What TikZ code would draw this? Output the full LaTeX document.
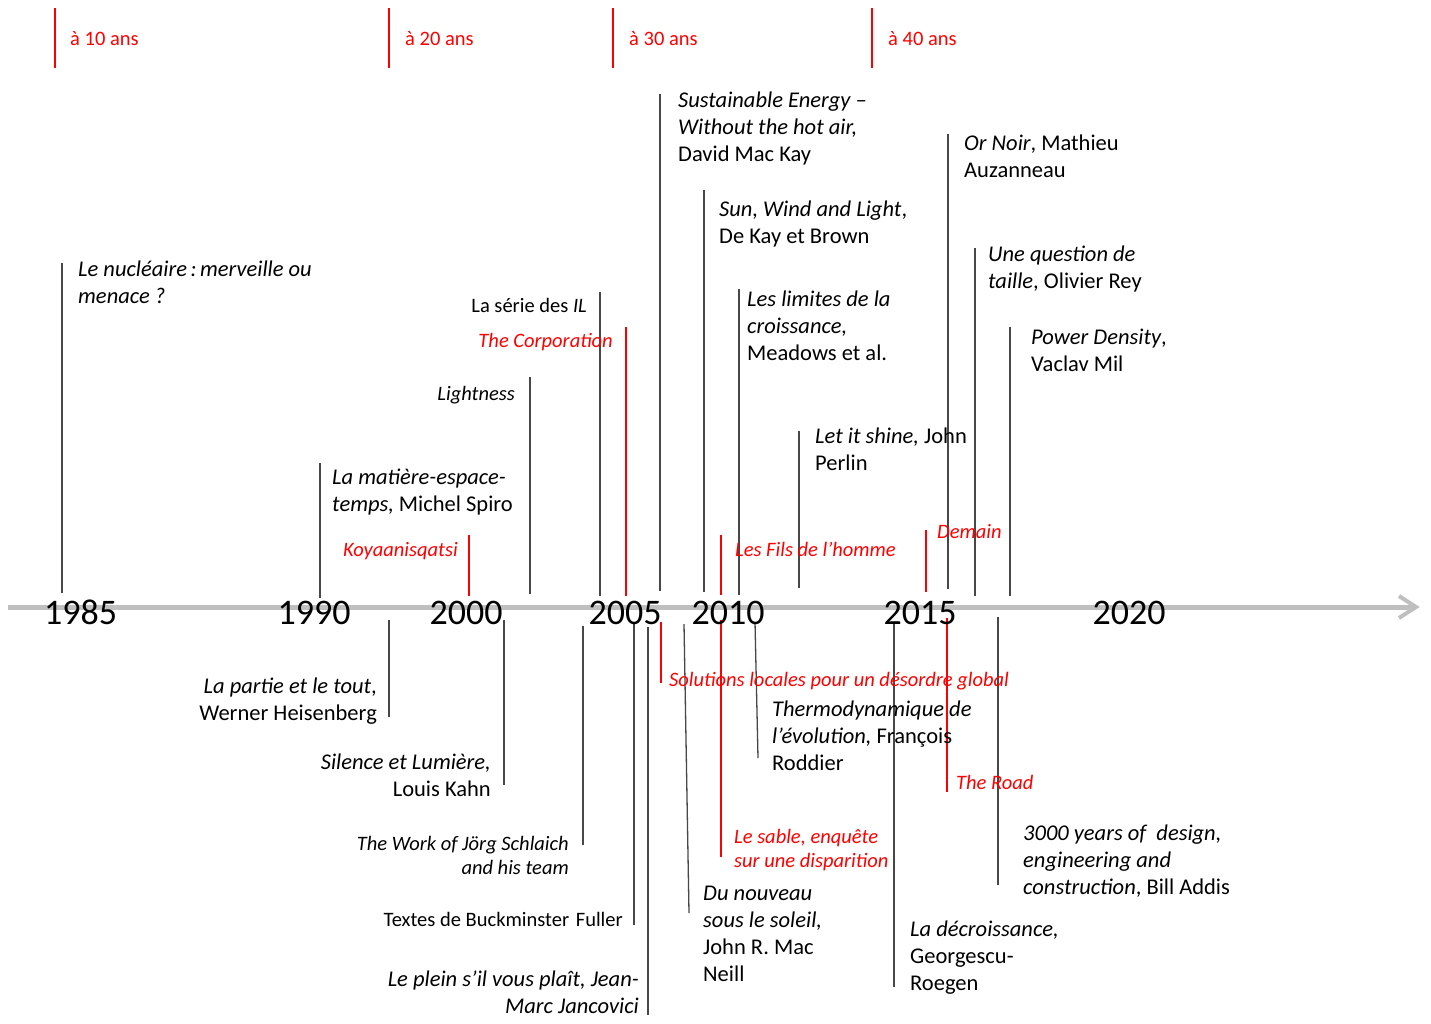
\documentclass[tikz,border=0pt]{standalone}
\usepackage{fontspec}
\setmainfont{Carlito}
\begin{document}
\begin{tikzpicture}[x=1pt,y=-1pt,
  axisline/.style={line width=5pt, color={rgb,255:red,191;green,191;blue,191}},
  tl/.style={line width=1.3pt, color=black!72},
  rl/.style={line width=1.3pt, color=red},
  yr/.style={font=\fontsize{36}{40}\selectfont, anchor=base, inner sep=0pt},
  bk/.style={font=\fontsize{22.5}{27}\selectfont, inner sep=0pt, yshift=-4pt, execute at begin node=\strut},
  sm/.style={font=\fontsize{20.5}{24}\selectfont, inner sep=0pt, yshift=-4pt, execute at begin node=\strut},
  L/.style={anchor=north west, align=left},
  R/.style={anchor=north east, align=right},
  rt/.style={text=red}
]
\useasboundingbox (0,0) rectangle (1431,1023);
\fill[white] (0,0) rectangle (1431,1023);

% age ticks
\foreach \x/\t in {55/10,389/20,613/30,872/40}{
  \draw[rl] (\x,8) -- (\x,68);
}
\node[sm,rt,anchor=north west] (a10) at (70,24) {à 10 ans};
\node[sm,rt,anchor=north west] (a20) at (405,24) {à 20 ans};
\node[sm,rt,anchor=north west] (a30) at (629,24) {à 30 ans};
\node[sm,rt,anchor=north west] (a40) at (888,24) {à 40 ans};

% axis
\draw[axisline] (8,607) -- (1414,607);
\draw[axisline, line width=4pt, line join=miter] (1399,596) -- (1416,607) -- (1399,618);

% vertical lines above
\draw[tl] (62,263) -- (62,593);
\draw[tl] (320,463) -- (320,598);
\draw[rl] (469,535) -- (469,596);
\draw[tl] (530,377) -- (530,594);
\draw[tl] (600,292) -- (600,596);
\draw[rl] (626,327) -- (626,596);
\draw[tl] (660,94) -- (660,591);
\draw[tl] (704,190) -- (704,592);
\draw[rl] (721,535) -- (721,595);
\draw[tl] (739,289) -- (739,595);
\draw[tl] (799,431) -- (799,588);
\draw[rl] (926,530) -- (926,592);
\draw[tl] (948,134) -- (948,589);
\draw[tl] (975,248) -- (975,596);
\draw[tl] (1010,327) -- (1010,596);

% vertical lines below
\draw[tl] (389,620) -- (389,717);
\draw[tl] (504,620) -- (504,785);
\draw[tl] (583,626) -- (583,845);
\draw[tl] (634,622) -- (634,925);
\draw[tl] (648,627) -- (648,1015);
\draw[rl] (661,622) -- (661,683);
\draw[tl] (684,624) -- (689,913);
\draw[rl] (721,620) -- (721,857);
\draw[tl] (755,622) -- (758,758);
\draw[tl] (894,622) -- (894,987);
\draw[rl] (947,618) -- (947,792);
\draw[tl] (998,617) -- (998,885);

% years
\node[yr] (y1985) at (80.5,624) {1985};
\node[yr] (y1990) at (314,624) {1990};
\node[yr] (y2000) at (466,624) {2000};
\node[yr] (y2005) at (625,624) {2005};
\node[yr] (y2010) at (728,624) {2010};
\node[yr] (y2015) at (920,624) {2015};
\node[yr] (y2020) at (1129,624) {2020};

% texts above
\node[bk,L] (t1) at (78,257) {\textit{Le nucléaire\hspace{3.5pt}:\hspace{3.5pt}merveille ou}\\\textit{menace ?}};
\node[bk,L] (t2) at (332,465) {\textit{La matière-espace-}\\\textit{temps,} Michel Spiro};
\node[sm,R,rt] (t3) at (458,535) {\textit{Koyaanisqatsi}};
\node[sm,R] (t4) at (515,379) {\textit{Lightness}};
\node[sm,R] (t5) at (587,291) {La série des \textit{IL}};
\node[sm,R,rt] (t6) at (613,326) {\textit{The Corporation}};
\node[bk,L] (t7) at (678,88) {\textit{Sustainable Energy –}\\\textit{Without the hot air,}\\David Mac Kay};
\node[bk,L] (t8) at (719,197) {\textit{Sun, Wind and Light},\\De Kay et Brown};
\node[sm,L,rt] (t9) at (735,535) {\textit{Les Fils de l’homme}};
\node[bk,L] (t10) at (747,287) {\textit{Les limites de la}\\\textit{croissance,}\\Meadows et al.};
\node[bk,L] (t11) at (815,424) {\textit{Let it shine,} John\\Perlin};
\node[sm,L,rt] (t12) at (937,517) {\textit{Demain}};
\node[bk,L] (t13) at (964,131) {\textit{Or Noir}, Mathieu\\Auzanneau};
\node[bk,L] (t14) at (988,242) {\textit{Une question de}\\\textit{taille}, Olivier Rey};
\node[bk,L] (t15) at (1031,325) {\textit{Power Density},\\Vaclav Mil};

% texts below
\node[bk,R] (b1) at (377,674) {\textit{La partie et le tout},\\Werner Heisenberg};
\node[bk,R] (b2) at (491,750) {\textit{Silence et Lumière,}\\Louis Kahn};
\node[sm,R] (b3) at (569,832) {\textit{The Work of Jörg Schlaich}\\\textit{and his team}};
\node[sm,R] (b4) at (623,905) {Textes de Buckminster\hspace{2pt} Fuller};
\node[bk,R] (b5) at (639,967) {\textit{Le plein s’il vous plaît, Jean-}\\\textit{Marc Jancovici}};
\node[sm,L,rt] (b6) at (669,665) {\textit{Solutions locales pour un désordre global}};
\node[bk,L] (b7) at (703,882) {\textit{Du nouveau}\\\textit{sous le soleil,}\\John R. Mac\\Neill};
\node[sm,L,rt] (b8) at (734,825) {\textit{Le sable, enquête}\\\textit{sur une disparition}};
\node[bk,L] (b9) at (772,697) {\textit{Thermodynamique de}\\\textit{l’évolution,} François\\Roddier};
\node[bk,L] (b10) at (910,917) {\textit{La décroissance,}\\Georgescu-\\Roegen};
\node[sm,L,rt] (b11) at (956,768) {\textit{The Road}};
\node[bk,L] (b12) at (1023,821) {\textit{3000 years of\ \ design,}\\\textit{engineering and}\\\textit{construction}, Bill Addis};
\end{tikzpicture}
\end{document}
